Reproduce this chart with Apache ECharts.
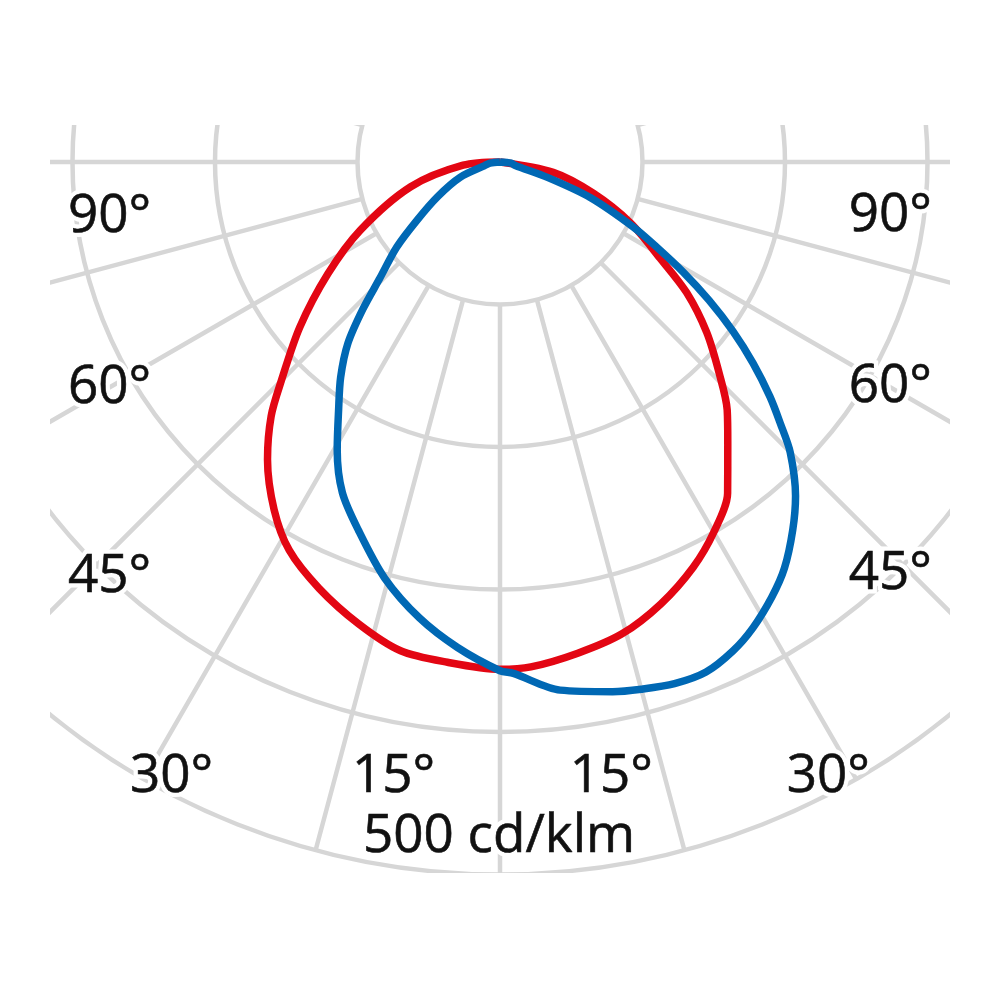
<!DOCTYPE html>
<html>
<head>
<meta charset="utf-8">
<script src="https://cdn.jsdelivr.net/npm/echarts@6/dist/echarts.min.js"></script>
<style>
html, body { margin: 0; padding: 0; background: #fff; }
#chart { width: 1000px; height: 1000px; }
</style>
</head>
<body>
<div id="chart"></div>
<script>
// angles in degrees from nadir, negative = left half, positive = right half
const redAngles = [-90, -85, -74.5, -64, -57, -50.5, -45, -42, -38, -33, -28.5, -23, -17, -11.5, -6, 0, 3.5, 9, 14.5, 20, 25.5, 30, 34.5, 39, 42.5, 46, 50.5, 55, 59, 65, 71.5, 79, 90];
const redValues = [0, 26, 65, 109, 144, 182, 217, 240, 265, 291, 310, 325, 339, 350, 353, 356, 355, 349, 342, 330, 315, 300, 282, 254, 236, 214, 188, 160, 131, 101, 69, 38, 0];

const blueAngles = [-90, -83, -77, -69, -61, -55, -50.5, -46, -43, -40, -36.5, -33, -29.5, -25.5, -21, -15.5, -10, -5, 0, 1.5, 6.5, 12, 15, 18.5, 22, 25.5, 28.5, 32, 35, 38.5, 41.5, 45, 47, 49, 51.5, 54, 56.5, 59, 61.5, 64, 68.5, 72, 77, 84, 90];
const blueValues = [0, 7, 11, 30, 50, 71, 94, 117, 141, 166, 188, 208, 232, 257, 277, 303, 325, 342, 357, 359, 373, 380, 383, 386, 386, 380, 372, 360, 348, 330, 313, 288, 269, 251, 227, 202, 176, 150, 125, 104, 68, 35, 11, 8, 0];

// intensity rings, cd/klm
const ringMin = 100;
const ringMax = 500;
const ringStep = 100;

const leftLabels = ['90°', '60°', '45°', '30°', '15°'];
const rightLabels = ['90°', '60°', '45°', '30°', '15°'];
const unitLabel = '500 cd/klm';

const cx = 500, cy = 162, outerR = 712.5;
const innerR = outerR * ringMin / ringMax;

const leftPos = [[68, 217], [68, 388], [68, 577], [130, 777], [352, 777]];
const rightPos = [[932, 216], [932, 387], [932, 574], [870, 777], [653, 777]];

const chart = echarts.init(document.getElementById('chart'));

const gridColor = '#d6d6d6';
const font = '"Open Sans", "Noto Sans", sans-serif';

function textEls(t, x, y, align) {
  const base = { text: t, fontSize: 53, fontFamily: font, align: align, verticalAlign: 'middle' };
  return [
    { type: 'text', x: x, y: y, z: 110, silent: true,
      style: Object.assign({}, base, { fill: '#fff', stroke: '#fff', lineWidth: 9 }) },
    { type: 'text', x: x, y: y, z: 111, silent: true,
      style: Object.assign({}, base, { fill: '#111', stroke: '#111', lineWidth: 0.6 }) }
  ];
}

let labels = [];
leftLabels.forEach((t, i) => { labels = labels.concat(textEls(t, leftPos[i][0], leftPos[i][1], 'left')); });
rightLabels.forEach((t, i) => { labels = labels.concat(textEls(t, rightPos[i][0], rightPos[i][1], 'right')); });
labels = labels.concat(textEls(unitLabel, 499, 837, 'center'));

const masks = [
  { type: 'rect', shape: { x: 0, y: 0, width: 1000, height: 125 } },
  { type: 'rect', shape: { x: 0, y: 873, width: 1000, height: 127 } },
  { type: 'rect', shape: { x: 0, y: 0, width: 50, height: 1000 } },
  { type: 'rect', shape: { x: 950, y: 0, width: 50, height: 1000 } }
].map(m => Object.assign(m, { z: 100, silent: true, style: { fill: '#fff' } }));

const option = {
  backgroundColor: '#fff',
  animation: false,
  polar: [
    { center: [cx, cy], radius: [innerR, outerR] },
    { center: [cx, cy], radius: [0, outerR] }
  ],
  angleAxis: [
    {
      polarIndex: 0, type: 'value', min: -180, max: 180, interval: 15,
      startAngle: 90, clockwise: false,
      axisLine: { show: false }, axisTick: { show: false }, axisLabel: { show: false },
      splitLine: { show: true, lineStyle: { color: gridColor, width: 4.5 } }
    },
    {
      polarIndex: 1, type: 'value', min: -180, max: 180,
      startAngle: 90, clockwise: false,
      axisLine: { show: false }, axisTick: { show: false }, axisLabel: { show: false },
      splitLine: { show: false }
    }
  ],
  radiusAxis: [
    {
      polarIndex: 0, type: 'value', min: ringMin, max: ringMax, interval: ringStep,
      axisLine: { show: false }, axisTick: { show: false }, axisLabel: { show: false },
      splitLine: { show: true, lineStyle: { color: gridColor, width: 4.5 } }
    },
    {
      polarIndex: 1, type: 'value', min: 0, max: ringMax,
      axisLine: { show: false }, axisTick: { show: false }, axisLabel: { show: false },
      splitLine: { show: false }
    }
  ],
  series: [
    {
      name: 'C0-C180', type: 'line', coordinateSystem: 'polar', polarIndex: 1,
      data: redAngles.map((a, i) => [redValues[i], a]),
      smooth: 0.3, symbol: 'none', z: 3,
      lineStyle: { color: '#e30613', width: 7.5 }
    },
    {
      name: 'C90-C270', type: 'line', coordinateSystem: 'polar', polarIndex: 1,
      data: blueAngles.map((a, i) => [blueValues[i], a]),
      smooth: 0.3, symbol: 'none', z: 4,
      lineStyle: { color: '#0068b4', width: 7.5 }
    }
  ],
  graphic: masks.concat(labels)
};

chart.setOption(option);
</script>
</body>
</html>
